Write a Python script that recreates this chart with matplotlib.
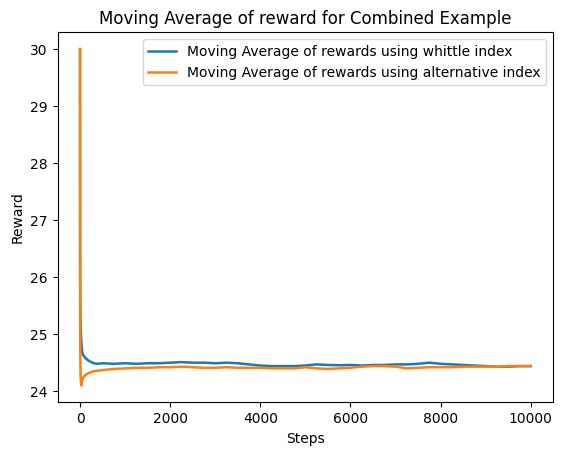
import matplotlib
matplotlib.use("Agg")
import matplotlib.pyplot as plt

# values (steps shared by both series)
steps = [0, 1, 2, 3, 5, 8, 12, 20, 30, 45, 65, 100, 150, 200, 300, 400, 500,
         750, 1000, 1250, 1500, 1750, 2000, 2250, 2500, 2750, 3000, 3250, 3500,
         3750, 4000, 4250, 4500, 4750, 5000, 5250, 5500, 5750, 6000, 6250, 6500,
         6750, 7000, 7250, 7500, 7750, 8000, 8250, 8500, 8750, 9000, 9250, 9500,
         9750, 10000]

whittle = [30.0, 27.5, 26.5, 26.0, 25.6, 25.3, 25.15, 25.0, 24.85, 24.7, 24.64,
           24.6, 24.56, 24.53, 24.49, 24.48, 24.49,
           24.48, 24.49, 24.48, 24.49, 24.49, 24.50, 24.51, 24.50, 24.50, 24.49,
           24.50, 24.49, 24.47, 24.45, 24.44, 24.44, 24.44, 24.45, 24.47, 24.46,
           24.455, 24.46, 24.45, 24.46, 24.46, 24.47, 24.47, 24.48, 24.50, 24.48,
           24.47, 24.46, 24.45, 24.44, 24.43, 24.43, 24.44, 24.44]

alternative = [30.0, 27.0, 25.8, 25.2, 24.8, 24.5, 24.3, 24.15, 24.10, 24.18,
               24.23, 24.27, 24.30, 24.32, 24.35, 24.36, 24.37,
               24.39, 24.40, 24.41, 24.41, 24.42, 24.42, 24.43, 24.42, 24.41,
               24.41, 24.42, 24.41, 24.41, 24.41, 24.40, 24.40, 24.40, 24.42,
               24.40, 24.39, 24.40, 24.41, 24.43, 24.44, 24.44, 24.43, 24.40,
               24.41, 24.42, 24.42, 24.42, 24.43, 24.43, 24.43, 24.43, 24.44,
               24.44, 24.44]

fig = plt.figure(figsize=(5.62, 4.55), dpi=100)
ax = fig.add_axes([57.5 / 562, 1 - 402.3 / 455, 495.8 / 562, 370 / 455])

ax.plot(steps, whittle, label="Moving Average of rewards using whittle index", lw=1.8)
ax.plot(steps, alternative, label="Moving Average of rewards using alternative index", lw=1.8)

ax.set_xlabel("Steps")
ax.set_ylabel("Reward")
ax.set_title("Moving Average of reward for Combined Example")
ax.legend(loc="upper right")

fig.savefig("out.png", dpi=100)
